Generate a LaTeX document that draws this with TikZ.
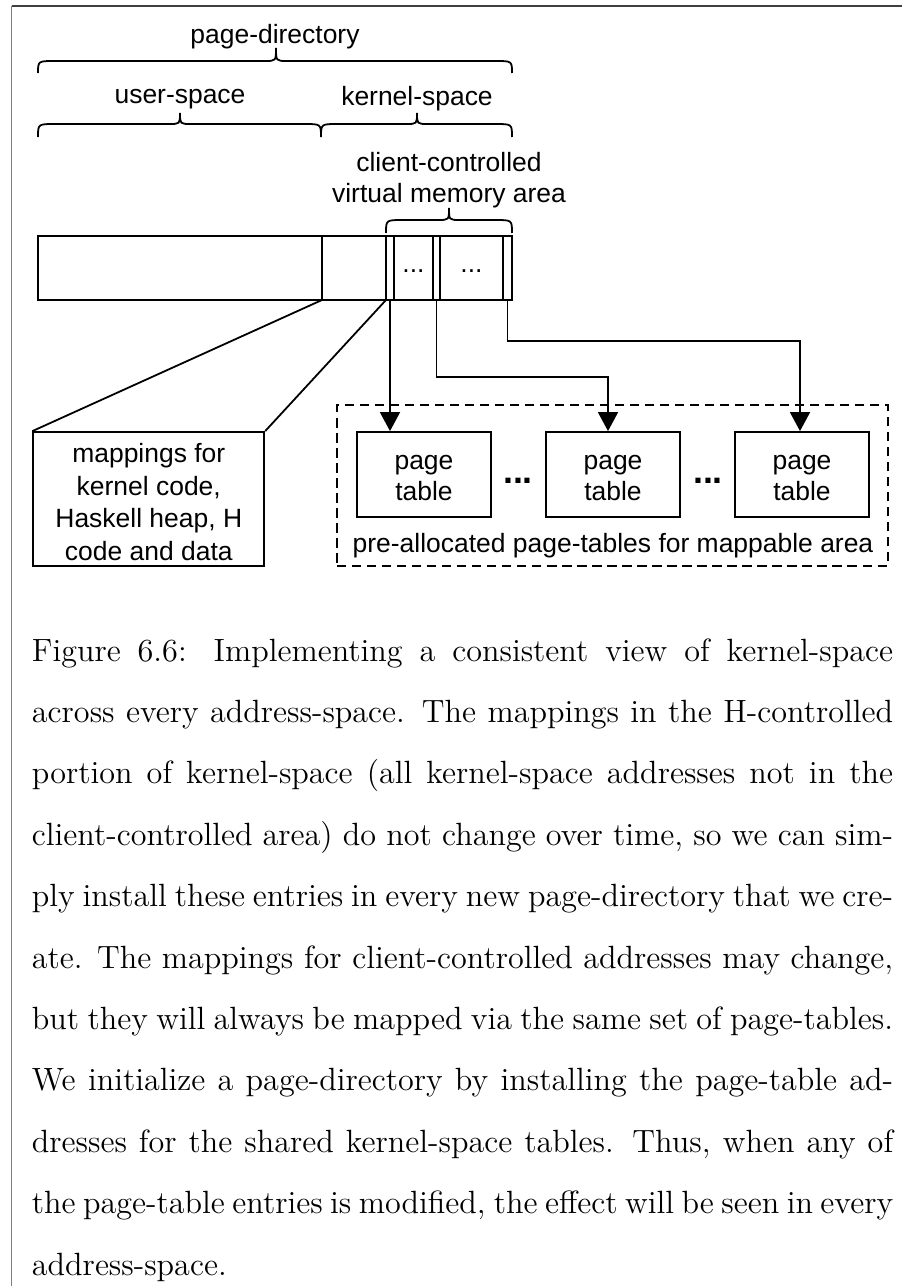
\documentclass[tikz,border=0pt]{standalone}
\usepackage{fontspec}
\newfontfamily\arialfont{Liberation Sans}
\usetikzlibrary{arrows.meta}
\def\pxu{0.4196pt}
\newcommand\mybrace[6]{%
  \draw[ln] (#1,#4) .. controls (#1,#5) .. (#1+17,#5) -- (#3-11,#5)
    .. controls (#3,#5) .. (#3,#6) .. controls (#3,#5) .. (#3+11,#5)
    -- (#2-17,#5) .. controls (#2,#5) .. (#2,#4);}
\newcommand\capline[3]{\node[capl] (#1) at (31.5,#2) {\makebox[361.35pt][s]{#3}};}
\begin{document}
\begin{tikzpicture}[x=0.4196pt,y=-0.4196pt,
  ln/.style={line width=0.75pt, line join=miter},
  lbl/.style={font=\arialfont\fontsize{11.1}{13}\selectfont, inner sep=0pt, align=center},
  box/.style={draw, line width=0.75pt, inner sep=0pt},
  arr/.style={ln, -{Triangle[length=8pt,width=8.4pt]}},
  capl/.style={anchor=base west, inner sep=0pt, font=\rmfamily\fontsize{13.5}{16}\selectfont},
  dotsl/.style={font=\arialfont\bfseries\fontsize{15}{15}\selectfont, inner sep=0pt}]
\useasboundingbox (0,0) rectangle (902,1286);
% frame
\draw[black!75, line width=0.7pt] (11.5,5.7) -- (902,5.7);
\draw[black!50, line width=0.8pt] (11.5,5.7) -- (11.5,1286);
% labels and braces
\node[lbl] (pd) at (275,37) {page-directory};
\mybrace{38}{512}{276}{73}{61}{48}
\node[lbl] (us) at (180,99) {user-space};
\node[lbl] (ks) at (417,99) {kernel-space};
\mybrace{38}{321}{180}{137}{124}{113}
\mybrace{321}{512}{417}{137}{124}{113}
\node[lbl] (cc) at (449,180) {client-controlled\\virtual memory area};
\mybrace{386}{512}{449}{233}{220}{208}
% bar
\node[box, minimum width=474*\pxu, minimum height=64*\pxu] (bar) at (275,268) {};
\foreach \xx in {322,386,394,433,440,503} \draw[ln] (\xx,236) -- (\xx,300);
\node[lbl] (dd1) at (413.5,271) {...};
\node[lbl] (dd2) at (471.5,271) {...};
\coordinate (d1) at (322,300);
\coordinate (d2) at (386,300);
\coordinate (c1) at (390,300);
\coordinate (c2) at (436.5,300);
\coordinate (c3) at (507.5,300);
% mappings box
\node[box, minimum width=231*\pxu, minimum height=134*\pxu] (map) at (148.8,499) {};
\node[lbl, font=\arialfont\fontsize{11.1}{13.6}\selectfont] (maptext) at (148.8,502)
  {mappings for\\kernel code,\\Haskell heap, H\\code and data};
\draw[ln] (d1) -- (map.north west);
\draw[ln] (d2) -- (map.north east);
% page tables
\node[draw, dashed, dash pattern=on 3.9pt off 2.4pt, line width=0.75pt,
  minimum width=551*\pxu, minimum height=161*\pxu, inner sep=0pt] (pre) at (612.5,485.5) {};
\node[box, minimum width=134*\pxu, minimum height=85*\pxu] (pt1) at (424,474.5) {};
\node[box, minimum width=134*\pxu, minimum height=85*\pxu] (pt2) at (613,474.5) {};
\node[box, minimum width=134*\pxu, minimum height=85*\pxu] (pt3) at (802,474.5) {};
\node[lbl] (ptl1) at (424,478) {page\\table};
\node[lbl] (ptl2) at (613,478) {page\\table};
\node[lbl] (ptl3) at (802,478) {page\\table};
\node[dotsl] (e1) at (518,481) {...};
\node[dotsl] (e2) at (708,481) {...};
\node[lbl] (prel) at (613,546) {pre-allocated page-tables for mappable area};
\coordinate (t1) at (pt1.north -| c1);
\coordinate (t2) at ([xshift=-5*\pxu]pt2.north);
\coordinate (t3) at ([xshift=-2*\pxu]pt3.north);
\draw[arr] (c1) -- (t1);
\draw[arr] (c2) |- (608,377) -- (t2);
\draw[arr] (c3) |- (800,341) -- (t3);
% caption
\capline{l1}{661}{Figure 6.6: Implementing a consistent view of kernel-space}
\capline{l2}{722.4}{across every address-space. The mappings in the H-controlled}
\capline{l3}{783.8}{portion of kernel-space (all kernel-space addresses not in the}
\capline{l4}{845.2}{client-controlled area) do not change over time, so we can sim-}
\capline{l5}{906.6}{ply install these entries in every new page-directory that we cre-}
\capline{l6}{968}{ate. The mappings for client-controlled addresses may change,}
\capline{l7}{1029.4}{but they will always be mapped via the same set of page-tables.}
\capline{l8}{1090.8}{We initialize a page-directory by installing the page-table ad-}
\capline{l9}{1152.2}{dresses for the shared kernel-space tables. Thus, when any of}
\capline{l10}{1213.6}{the page-table entries is modified, the effect will be seen in every}
\node[capl] (l11) at (31.5,1275) {address-space.};
\end{tikzpicture}
\end{document}
